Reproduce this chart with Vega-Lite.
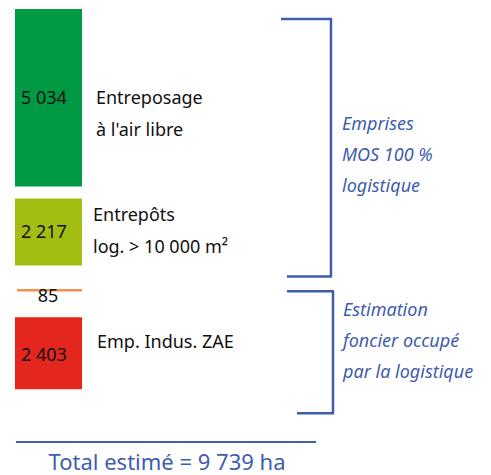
{
  "$schema": "https://vega.github.io/schema/vega-lite/v6.json",
  "width": 491,
  "height": 475,
  "autosize": {"type": "fit", "contains": "padding"},
  "padding": 0,
  "background": "white",
  "config": {"view": {"stroke": null}, "font": "Noto Sans"},
  "datasets": {
    "blocks": [
      {"cat": "Entreposage", "label": "5 034", "value": 5034, "x0": 3.05, "x1": 16.7, "lx": 4.28, "top": 98.11, "bottom": 60.63, "ly": 78.11, "name": ["Entreposage", "à l'air libre"], "nx": 19.55, "ny": 78.11},
      {"cat": "Entrepots", "label": "2 217", "value": 2217, "x0": 3.05, "x1": 16.7, "lx": 4.28, "top": 58.11, "bottom": 44.0, "ly": 49.89, "name": ["Entrepôts", "log. > 10 000 m²"], "nx": 18.94, "ny": 53.47},
      {"cat": "Emp", "label": "2 403", "value": 2403, "x0": 3.05, "x1": 16.7, "lx": 4.28, "top": 33.05, "bottom": 17.89, "ly": 23.79, "name": ["Emp. Indus. ZAE"], "nx": 19.76, "ny": 26.53}
    ],
    "small": [
      {"cat": "Autre", "label": "85", "value": 85, "x0": 3.46, "x1": 16.7, "y": 38.74, "lx": 9.78, "ly": 36.21}
    ],
    "brackets": [
      {"x0": 57.23, "x1": 67.62, "y0": 96.0, "y1": 96.0},
      {"x0": 67.41, "x1": 67.41, "y0": 96.0, "y1": 41.68},
      {"x0": 58.45, "x1": 67.62, "y0": 41.68, "y1": 41.68},
      {"x0": 58.45, "x1": 68.02, "y0": 38.53, "y1": 38.53},
      {"x0": 67.82, "x1": 67.82, "y0": 38.53, "y1": 12.84},
      {"x0": 60.49, "x1": 68.02, "y0": 12.84, "y1": 12.84}
    ],
    "bracketText": [
      {"text": ["Emprises", "MOS 100 %", "logistique"], "x": 69.65, "y": 72.63},
      {"text": ["Estimation", "foncier occupé", "par la logistique"], "x": 69.86, "y": 33.26}
    ],
    "total": [
      {"text": "Total estimé = 9 739 ha", "value": 9739, "x0": 3.26, "x1": 64.36, "y": 6.74, "tx": 34.01, "ty": 0.84}
    ]
  },
  "layer": [
    {
      "data": {"name": "blocks"},
      "mark": {"type": "rect"},
      "encoding": {
        "x": {"field": "x0", "type": "quantitative", "scale": {"domain": [0, 100], "nice": false, "zero": false}, "axis": null},
        "x2": {"field": "x1"},
        "y": {"field": "top", "type": "quantitative", "scale": {"domain": [0, 100], "nice": false, "zero": false}, "axis": null},
        "y2": {"field": "bottom"},
        "color": {"field": "cat", "type": "nominal", "legend": null, "scale": {"domain": ["Entreposage", "Entrepots", "Emp", "Autre"], "range": ["#009A44", "#A3BD13", "#E3261E", "#F29056"]}}
      }
    },
    {
      "data": {"name": "small"},
      "mark": {"type": "rule", "strokeWidth": 2.5},
      "encoding": {
        "x": {"field": "x0", "type": "quantitative"},
        "x2": {"field": "x1"},
        "y": {"field": "y", "type": "quantitative"},
        "color": {"field": "cat", "type": "nominal", "legend": null}
      }
    },
    {
      "data": {"name": "blocks"},
      "mark": {"type": "text", "align": "left", "baseline": "alphabetic", "fontSize": 18, "color": "#111111"},
      "encoding": {
        "x": {"field": "lx", "type": "quantitative"},
        "y": {"field": "ly", "type": "quantitative"},
        "text": {"field": "label"}
      }
    },
    {
      "data": {"name": "small"},
      "mark": {"type": "text", "align": "center", "baseline": "alphabetic", "fontSize": 18, "color": "#111111"},
      "encoding": {
        "x": {"field": "lx", "type": "quantitative"},
        "y": {"field": "ly", "type": "quantitative"},
        "text": {"field": "label"}
      }
    },
    {
      "data": {"name": "blocks"},
      "mark": {"type": "text", "align": "left", "baseline": "alphabetic", "fontSize": 18, "lineHeight": 32, "color": "#111111"},
      "encoding": {
        "x": {"field": "nx", "type": "quantitative"},
        "y": {"field": "ny", "type": "quantitative"},
        "text": {"field": "name"}
      }
    },
    {
      "data": {"name": "brackets"},
      "mark": {"type": "rule", "strokeWidth": 2.5, "color": "#3F5DAE"},
      "encoding": {
        "x": {"field": "x0", "type": "quantitative"},
        "x2": {"field": "x1"},
        "y": {"field": "y0", "type": "quantitative"},
        "y2": {"field": "y1"}
      }
    },
    {
      "data": {"name": "bracketText"},
      "mark": {"type": "text", "align": "left", "baseline": "alphabetic", "fontSize": 18, "fontStyle": "italic", "lineHeight": 31, "color": "#3F5DAE"},
      "encoding": {
        "x": {"field": "x", "type": "quantitative"},
        "y": {"field": "y", "type": "quantitative"},
        "text": {"field": "text"}
      }
    },
    {
      "data": {"name": "total"},
      "mark": {"type": "rule", "strokeWidth": 2, "color": "#3F5DAE"},
      "encoding": {
        "x": {"field": "x0", "type": "quantitative"},
        "x2": {"field": "x1"},
        "y": {"field": "y", "type": "quantitative"}
      }
    },
    {
      "data": {"name": "total"},
      "mark": {"type": "text", "align": "center", "baseline": "alphabetic", "fontSize": 22, "color": "#3F5DAE"},
      "encoding": {
        "x": {"field": "tx", "type": "quantitative"},
        "y": {"field": "ty", "type": "quantitative"},
        "text": {"field": "text"}
      }
    }
  ]
}
